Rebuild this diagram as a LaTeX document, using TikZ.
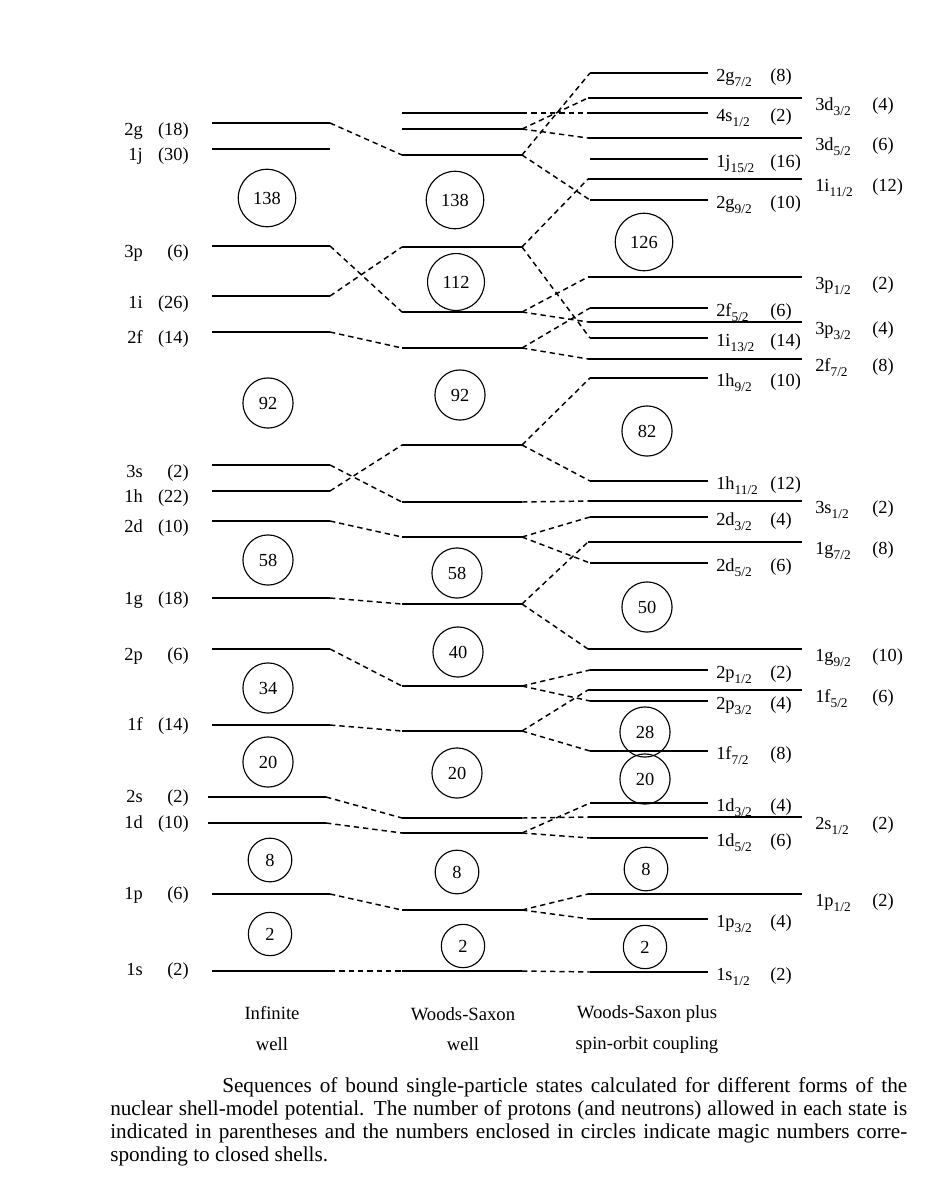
\documentclass[tikz,border=0pt]{standalone}
\usepackage{fontspec}
\setmainfont{Liberation Serif}
\newcommand\labfont{\fontsize{13.8}{15}\selectfont}
\newcommand\ttlfont{\fontsize{14}{16}\selectfont}
\newcommand\capfont{\fontsize{15.9}{17.25}\selectfont}
\newcommand\subj[1]{\raisebox{-0.28em}{\fontsize{10}{10}\selectfont #1}}
\newcommand\Lv[4]{\coordinate (#1L) at (#2,#4); \coordinate (#1R) at (#3,#4); \draw[level] (#1L) -- (#1R);}
\newcommand\LabA[4]{\node[lab,anchor=base east] (#1s) at (143,#4+5) {#2}; \node[lab,anchor=base east] (#1n) at (189,#4+5) {(#3)};}
\newcommand\LabS[4]{\node[lab,anchor=base west] (#1s) at (716,#4+8) {#2}; \node[lab,anchor=base west] (#1n) at (770,#4+8) {(#3)};}
\newcommand\LabL[4]{\node[lab,anchor=base west] (#1s) at (815,#4+12) {#2}; \node[lab,anchor=base west] (#1n) at (872,#4+12) {(#3)};}
\begin{document}
\begin{tikzpicture}[x=0.75pt,y=-0.75pt,
  level/.style={line width=2pt},
  conn/.style={line width=1.1pt, dash pattern=on 4pt off 3pt},
  lab/.style={font=\labfont, inner sep=0pt},
  magic/.style={circle, draw, line width=0.85pt, inner sep=7.5pt, minimum size=31.5pt, font=\labfont},
  ttl/.style={font=\ttlfont, inner sep=0pt}]
\useasboundingbox (0,0) rectangle (945,1200);
\fill[white] (0,0) rectangle (945,1200);
% ---------- Column 1: infinite well ----------
\Lv{a2g}{212}{330}{123}
\Lv{a1j}{212}{330}{149}
\Lv{a3p}{212}{330}{246}
\Lv{a1i}{212}{330}{296}
\Lv{a2f}{212}{330}{332}
\Lv{a3s}{212}{330}{465}
\Lv{a1h}{212}{330}{491}
\Lv{a2d}{212}{330}{521}
\Lv{a1g}{212}{330}{598}
\Lv{a2p}{212}{330}{649}
\Lv{a1f}{212}{330}{725}
\Lv{a2s}{208}{326}{797}
\Lv{a1d}{208}{326}{823}
\Lv{a1p}{212}{330}{894}
\Lv{a1s}{212}{330}{971}
\LabA{la2g}{2g}{18}{130}
\LabA{la1j}{1j}{30}{155}
\LabA{la3p}{3p}{6}{252}
\LabA{la1i}{1i}{26}{303}
\LabA{la2f}{2f}{14}{338}
\LabA{la3s}{3s}{2}{472}
\LabA{la1h}{1h}{22}{497}
\LabA{la2d}{2d}{10}{527}
\LabA{la1g}{1g}{18}{599}
\LabA{la2p}{2p}{6}{655}
\LabA{la1f}{1f}{14}{725}
\LabA{la2s}{2s}{2}{797}
\LabA{la1d}{1d}{10}{823}
\LabA{la1p}{1p}{6}{894}
\LabA{la1s}{1s}{2}{970}
\node[magic] (ma138) at (267,198) {138};
\node[magic] (ma92) at (268,403) {92};
\node[magic] (ma58) at (268,560) {58};
\node[magic] (ma34) at (268,688) {34};
\node[magic] (ma20) at (268,762) {20};
\node[magic] (ma8) at (270,860) {8};
\node[magic] (ma2) at (270,934) {2};
% ---------- Column 2: Woods-Saxon ----------
\Lv{b4s}{402}{522}{113}
\Lv{b3d}{402}{522}{129}
\Lv{b2g}{402}{522}{155}
\Lv{b1i}{402}{522}{247}
\Lv{b3p}{402}{522}{312}
\Lv{b2f}{402}{522}{348}
\Lv{b1h}{402}{522}{445}
\Lv{b3s}{402}{522}{502}
\Lv{b2d}{402}{522}{537}
\Lv{b1g}{402}{522}{604}
\Lv{b2p}{402}{522}{686}
\Lv{b1f}{402}{522}{731}
\Lv{b2s}{402}{522}{818}
\Lv{b1d}{402}{522}{833}
\Lv{b1p}{402}{522}{910}
\Lv{b1s}{402}{522}{971}
\node[magic] (mb138) at (455,200) {138};
\node[magic] (mb112) at (456,282) {112};
\node[magic] (mb92) at (460,395) {92};
\node[magic] (mb58) at (457,573) {58};
\node[magic] (mb40) at (458,652) {40};
\node[magic] (mb20) at (457,773) {20};
\node[magic] (mb8) at (457,872) {8};
\node[magic] (mb2) at (463,946) {2};
% ---------- Column 3: Woods-Saxon + spin-orbit ----------
\Lv{c2g7}{590}{708}{73}
\Lv{c3d3}{588}{802}{98}
\Lv{c4s1}{590}{708}{113}
\Lv{c3d5}{588}{802}{138}
\Lv{c1j15}{590}{708}{159}
\Lv{c1i11}{588}{802}{179}
\Lv{c2g9}{590}{708}{200}
\Lv{c3p1}{588}{802}{277}
\Lv{c2f5}{590}{708}{308}
\Lv{c3p3}{588}{802}{322}
\Lv{c1i13}{590}{708}{338}
\Lv{c2f7}{588}{802}{359}
\Lv{c1h9}{590}{708}{378}
\Lv{c1h11}{590}{708}{481}
\Lv{c3s1}{588}{802}{501}
\Lv{c2d3}{590}{708}{517}
\Lv{c1g7}{588}{802}{542}
\Lv{c2d5}{590}{708}{563}
\Lv{c1g9}{588}{802}{649}
\Lv{c2p1}{590}{708}{670}
\Lv{c1f5}{588}{802}{690}
\Lv{c2p3}{590}{708}{701}
\Lv{c1f7}{590}{708}{751}
\Lv{c1d3}{590}{708}{803}
\Lv{c2s1}{588}{802}{817}
\Lv{c1d5}{590}{708}{838}
\Lv{c1p1}{588}{802}{894}
\Lv{c1p3}{590}{708}{919}
\Lv{c1s1}{590}{708}{972}
\LabS{lc2g7}{2g\subj{7/2}}{8}{73}
\LabL{lc3d3}{3d\subj{3/2}}{4}{98}
\LabS{lc4s1}{4s\subj{1/2}}{2}{113}
\LabL{lc3d5}{3d\subj{5/2}}{6}{138}
\LabS{lc1j15}{1j\subj{15/2}}{16}{159}
\LabL{lc1i11}{1i\subj{11/2}}{12}{179}
\LabS{lc2g9}{2g\subj{9/2}}{10}{200}
\LabL{lc3p1}{3p\subj{1/2}}{2}{277}
\LabS{lc2f5}{2f\subj{5/2}}{6}{308}
\LabL{lc3p3}{3p\subj{3/2}}{4}{322}
\LabS{lc1i13}{1i\subj{13/2}}{14}{338}
\LabL{lc2f7}{2f\subj{7/2}}{8}{359}
\LabS{lc1h9}{1h\subj{9/2}}{10}{378}
\LabS{lc1h11}{1h\subj{11/2}}{12}{481}
\LabL{lc3s1}{3s\subj{1/2}}{2}{501}
\LabS{lc2d3}{2d\subj{3/2}}{4}{517}
\LabL{lc1g7}{1g\subj{7/2}}{8}{542}
\LabS{lc2d5}{2d\subj{5/2}}{6}{563}
\LabL{lc1g9}{1g\subj{9/2}}{10}{649}
\LabS{lc2p1}{2p\subj{1/2}}{2}{670}
\LabL{lc1f5}{1f\subj{5/2}}{6}{690}
\LabS{lc2p3}{2p\subj{3/2}}{4}{701}
\LabS{lc1f7}{1f\subj{7/2}}{8}{751}
\LabS{lc1d3}{1d\subj{3/2}}{4}{803}
\LabL{lc2s1}{2s\subj{1/2}}{2}{817}
\LabS{lc1d5}{1d\subj{5/2}}{6}{838}
\LabL{lc1p1}{1p\subj{1/2}}{2}{894}
\LabS{lc1p3}{1p\subj{3/2}}{4}{919}
\LabS{lc1s1}{1s\subj{1/2}}{2}{972}
\node[magic] (mc126) at (644,242) {126};
\node[magic] (mc82) at (647,431) {82};
\node[magic] (mc50) at (647,607) {50};
\node[magic] (mc28) at (645,732) {28};
\node[magic] (mc20) at (645,779) {20};
\node[magic] (mc8) at (646,869) {8};
\node[magic] (mc2) at (645,947) {2};
% ---------- Connectors: infinite well -> Woods-Saxon ----------
\foreach \s in {2g,3p,1i,2f,3s,1h,2d,1g,2p,1f,2s,1d,1p,1s}
  \draw[conn] (a\s R) -- (b\s L);
% ---------- Connectors: Woods-Saxon -> spin-orbit ----------
\foreach \s/\t in {4s/4s1, 3d/3d3, 3d/3d5, 2g/2g7, 2g/2g9, 1i/1i11, 1i/1i13,
  3p/3p1, 3p/3p3, 2f/2f5, 2f/2f7, 1h/1h9, 1h/1h11, 3s/3s1, 2d/2d3, 2d/2d5,
  1g/1g7, 1g/1g9, 2p/2p1, 2p/2p3, 1f/1f5, 1f/1f7, 2s/2s1, 1d/1d3, 1d/1d5,
  1p/1p1, 1p/1p3, 1s/1s1}
  \draw[conn] (b\s R) -- (c\t L);
% ---------- Column titles ----------
\node[ttl] (t1a) at (272,1013) {Infinite};
\node[ttl] (t1b) at (272,1044) {well};
\node[ttl] (t2a) at (463,1014) {Woods-Saxon};
\node[ttl] (t2b) at (463,1044) {well};
\node[ttl] (t3a) at (647,1014) {Woods-Saxon plus};
\node[ttl] (t3b) at (647,1045) {spin-orbit coupling};
% ---------- Caption ----------
\node[anchor=north west, align=left, font=\capfont, inner sep=0pt] (cap) at (110,1077)
{\hbox to 597.75pt{\hskip 84pt Sequences of bound single-particle states calculated for different forms of the}\\
 \hbox to 597.75pt{nuclear shell-model potential. The number of protons (and neutrons) allowed in each state is}\\
 \hbox to 597.75pt{indicated in parentheses and the numbers enclosed in circles indicate magic numbers corre-}\\
 \hbox{sponding to closed shells.}};
\end{tikzpicture}
\end{document}
